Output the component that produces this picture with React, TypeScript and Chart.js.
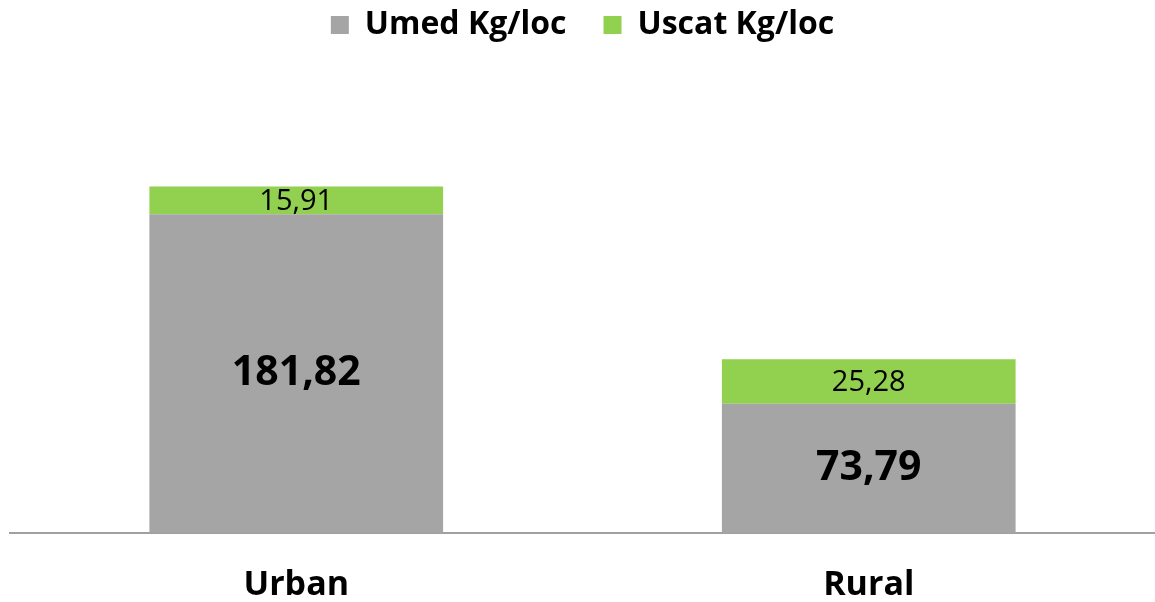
import React, { useEffect, useRef } from "react";
import { Chart, registerables } from "chart.js";

Chart.register(...registerables);

const categories = ["Urban", "Rural"];
const umedValues = [181.82, 73.79];
const uscatValues = [15.91, 25.28];
const seriesNames = ["Umed Kg/loc", "Uscat Kg/loc"];

const FONT = "'Open Sans', 'DejaVu Sans', sans-serif";

const fmt = (v: number) => v.toFixed(2).replace(".", ",");

const labelPlugin = {
  id: "barLabels",
  afterDatasetsDraw(chart: any) {
    const ctx = chart.ctx;
    chart.data.datasets.forEach((ds: any, di: number) => {
      const meta = chart.getDatasetMeta(di);
      meta.data.forEach((bar: any, i: number) => {
        const v = ds.data[i];
        const cy = (bar.y + bar.base) / 2;
        ctx.save();
        ctx.fillStyle = "#000";
        ctx.textAlign = "center";
        ctx.textBaseline = "middle";
        ctx.font = di === 0 ? `bold 41px ${FONT}` : `29px ${FONT}`;
        ctx.fillText(fmt(v), bar.x, cy + (di === 0 ? 0 : 1));
        ctx.restore();
      });
    });
  },
};

export default function App() {
  const ref = useRef<HTMLCanvasElement | null>(null);
  useEffect(() => {
    document.body.style.margin = "0";
    if (!ref.current) return;
    const chart = new Chart(ref.current, {
      type: "bar",
      data: {
        labels: categories,
        datasets: [
          {
            label: seriesNames[0],
            data: umedValues,
            backgroundColor: "#a5a5a5",
            barPercentage: 0.513,
            categoryPercentage: 1,
          },
          {
            label: seriesNames[1],
            data: uscatValues,
            backgroundColor: "#92d050",
            barPercentage: 0.513,
            categoryPercentage: 1,
          },
        ],
      },
      options: {
        animation: false,
        responsive: true,
        maintainAspectRatio: false,
        layout: { padding: { left: 10, right: 0, top: 0, bottom: 0 } },
        plugins: {
          tooltip: { enabled: false },
          legend: {
            position: "top",
            labels: {
              boxWidth: 18,
              boxHeight: 18,
              padding: 37,
              color: "#000",
              font: { family: FONT, size: 32, weight: "bold" },
            },
          },
        },
        scales: {
          x: {
            stacked: true,
            grid: { display: false, drawTicks: false },
            border: { display: true, color: "#a0a0a0", width: 2 },
            ticks: {
              color: "#000",
              padding: 31.6,
              font: { family: FONT, size: 34, weight: "bold" },
            },
          },
          y: {
            stacked: true,
            display: false,
            min: 0,
            max: 275,
          },
        },
      },
      plugins: [labelPlugin],
    });
    return () => chart.destroy();
  }, []);
  return (
    <div style={{ width: 1155, height: 602, position: "relative", overflow: "hidden" }}>
      <div style={{ position: "absolute", left: 0, top: -28, width: 1155, height: 665 }}>
        <canvas ref={ref} />
      </div>
    </div>
  );
}
